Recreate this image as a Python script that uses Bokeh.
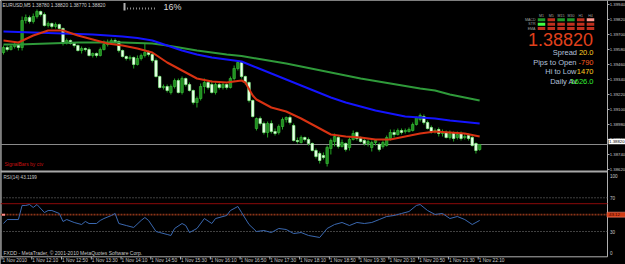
from bokeh.plotting import figure
from bokeh.models import Range1d, ColumnDataSource
from bokeh.core.properties import value
from bokeh.embed import file_html
from bokeh.resources import INLINE

# ---------------- data ----------------
title_text = "EURUSD,M5  1.38780 1.38820 1.38770 1.38820"
opens = [
    1.39556, 1.39596, 1.39580, 1.39604, 1.39620, 1.39596, 1.39812, 1.39836, 1.39804, 1.39844,
    1.39884, 1.39860, 1.39772, 1.39788, 1.39764, 1.39780, 1.39748, 1.39636, 1.39652, 1.39628,
    1.39612, 1.39572, 1.39588, 1.39580, 1.39532, 1.39548, 1.39532, 1.39580, 1.39620, 1.39636,
    1.39652, 1.39644, 1.39572, 1.39524, 1.39508, 1.39516, 1.39460, 1.39508, 1.39532, 1.39556,
    1.39540, 1.39492, 1.39364, 1.39276, 1.39284, 1.39236, 1.39284, 1.39332, 1.39236, 1.39348,
    1.39300, 1.39252, 1.39156, 1.39188, 1.39284, 1.39316, 1.39300, 1.39236, 1.39300, 1.39276,
    1.39300, 1.39276, 1.39348, 1.39428, 1.39476, 1.39364, 1.39316, 1.39172, 1.38948, 1.39028,
    1.38988, 1.38916, 1.38988, 1.38924, 1.38916, 1.38964, 1.39020, 1.39036, 1.38972, 1.38852,
    1.38836, 1.38876, 1.38860, 1.38828, 1.38772, 1.38748, 1.38732, 1.38668, 1.38788, 1.38844,
    1.38876, 1.38804, 1.38828, 1.38796, 1.38860, 1.38916, 1.38868, 1.38852, 1.38828, 1.38796,
    1.38836, 1.38820, 1.38804, 1.38812, 1.38868, 1.38916, 1.38900, 1.38932, 1.38924, 1.38924,
    1.38932, 1.38980, 1.39020, 1.39044, 1.38996, 1.38956, 1.38924, 1.38940, 1.38908, 1.38916,
    1.38876, 1.38916, 1.38876, 1.38908, 1.38876, 1.38892, 1.38876, 1.38828, 1.38780]
highs = [
    1.39612, 1.39612, 1.39620, 1.39636, 1.39628, 1.39844, 1.39860, 1.39852, 1.39868, 1.39900,
    1.39892, 1.39876, 1.39804, 1.39796, 1.39796, 1.39788, 1.39756, 1.39668, 1.39660, 1.39636,
    1.39620, 1.39604, 1.39596, 1.39596, 1.39556, 1.39556, 1.39596, 1.39652, 1.39660, 1.39668,
    1.39668, 1.39652, 1.39580, 1.39532, 1.39532, 1.39524, 1.39532, 1.39548, 1.39628, 1.39572,
    1.39556, 1.39508, 1.39372, 1.39300, 1.39300, 1.39300, 1.39348, 1.39348, 1.39364, 1.39356,
    1.39316, 1.39260, 1.39204, 1.39308, 1.39348, 1.39332, 1.39332, 1.39316, 1.39316, 1.39316,
    1.39308, 1.39364, 1.39452, 1.39492, 1.39484, 1.39372, 1.39324, 1.39180, 1.39036, 1.39044,
    1.39004, 1.39004, 1.39012, 1.38948, 1.38980, 1.39036, 1.39044, 1.39052, 1.38988, 1.38876,
    1.38892, 1.38884, 1.38876, 1.38836, 1.38788, 1.38764, 1.38756, 1.38812, 1.38868, 1.38908,
    1.38892, 1.38860, 1.38836, 1.38876, 1.38932, 1.38924, 1.38884, 1.38876, 1.38860, 1.38852,
    1.38860, 1.38836, 1.38852, 1.38892, 1.38940, 1.38940, 1.38948, 1.38948, 1.38948, 1.38956,
    1.38996, 1.39044, 1.39068, 1.39060, 1.39012, 1.38972, 1.38948, 1.38956, 1.38940, 1.38932,
    1.38932, 1.38924, 1.38924, 1.38924, 1.38908, 1.38908, 1.38892, 1.38836, 1.38820]
lows = [
    1.39540, 1.39564, 1.39572, 1.39588, 1.39572, 1.39572, 1.39788, 1.39788, 1.39788, 1.39828,
    1.39844, 1.39764, 1.39756, 1.39748, 1.39748, 1.39740, 1.39612, 1.39620, 1.39620, 1.39596,
    1.39564, 1.39548, 1.39564, 1.39524, 1.39516, 1.39516, 1.39524, 1.39572, 1.39604, 1.39628,
    1.39628, 1.39556, 1.39516, 1.39492, 1.39492, 1.39428, 1.39452, 1.39492, 1.39516, 1.39524,
    1.39476, 1.39356, 1.39268, 1.39260, 1.39236, 1.39220, 1.39268, 1.39228, 1.39220, 1.39284,
    1.39244, 1.39140, 1.39116, 1.39172, 1.39228, 1.39260, 1.39228, 1.39220, 1.39260, 1.39260,
    1.39260, 1.39268, 1.39332, 1.39412, 1.39348, 1.39300, 1.39156, 1.39036, 1.38932, 1.38972,
    1.38900, 1.38876, 1.38908, 1.38892, 1.38900, 1.38940, 1.38996, 1.38980, 1.38844, 1.38828,
    1.38828, 1.38844, 1.38812, 1.38764, 1.38708, 1.38668, 1.38700, 1.38644, 1.38740, 1.38804,
    1.38788, 1.38796, 1.38764, 1.38772, 1.38852, 1.38852, 1.38836, 1.38812, 1.38804, 1.38764,
    1.38812, 1.38764, 1.38788, 1.38804, 1.38852, 1.38876, 1.38892, 1.38900, 1.38908, 1.38916,
    1.38924, 1.38972, 1.39004, 1.38980, 1.38940, 1.38908, 1.38908, 1.38884, 1.38884, 1.38868,
    1.38860, 1.38844, 1.38860, 1.38852, 1.38860, 1.38852, 1.38804, 1.38748, 1.38770]
closes = [
    1.39596, 1.39580, 1.39604, 1.39620, 1.39596, 1.39812, 1.39836, 1.39804, 1.39844, 1.39884,
    1.39860, 1.39772, 1.39788, 1.39764, 1.39780, 1.39748, 1.39636, 1.39652, 1.39628, 1.39612,
    1.39572, 1.39588, 1.39580, 1.39532, 1.39548, 1.39532, 1.39580, 1.39620, 1.39636, 1.39652,
    1.39644, 1.39572, 1.39524, 1.39508, 1.39516, 1.39460, 1.39508, 1.39532, 1.39556, 1.39540,
    1.39492, 1.39364, 1.39276, 1.39284, 1.39252, 1.39284, 1.39332, 1.39236, 1.39348, 1.39300,
    1.39252, 1.39156, 1.39188, 1.39284, 1.39316, 1.39276, 1.39236, 1.39300, 1.39276, 1.39300,
    1.39276, 1.39348, 1.39428, 1.39476, 1.39364, 1.39316, 1.39172, 1.39044, 1.39028, 1.38988,
    1.38916, 1.38988, 1.38924, 1.38908, 1.38964, 1.39020, 1.39036, 1.38996, 1.38852, 1.38844,
    1.38876, 1.38860, 1.38828, 1.38772, 1.38724, 1.38692, 1.38716, 1.38796, 1.38852, 1.38884,
    1.38804, 1.38836, 1.38780, 1.38860, 1.38908, 1.38868, 1.38844, 1.38828, 1.38844, 1.38836,
    1.38852, 1.38780, 1.38836, 1.38876, 1.38916, 1.38900, 1.38932, 1.38916, 1.38932, 1.38940,
    1.38980, 1.39036, 1.39052, 1.38996, 1.38948, 1.38924, 1.38932, 1.38908, 1.38924, 1.38876,
    1.38908, 1.38868, 1.38900, 1.38868, 1.38884, 1.38868, 1.38812, 1.38772, 1.38820]
bid_price = 1.38820

ma_idx = list(range(0, 129, 4))
ma_green = [1.39620, 1.39620, 1.39624, 1.39628, 1.39632, 1.39636, 1.39636, 1.39636, 1.39636,
            1.39632, 1.39628, 1.39612, 1.39592, 1.39572, 1.39556, 1.39540, 1.39528, 1.39508,
            1.39488, 1.39468, 1.39444, 1.39420, 1.39396, 1.39372, 1.39348, 1.39328, 1.39308,
            1.39288, 1.39268, 1.39252, 1.39220, 1.39196, 1.39172]
ma_blue = [1.39724, 1.39720, 1.39716, 1.39712, 1.39708, 1.39704, 1.39700, 1.39692, 1.39684,
           1.39672, 1.39652, 1.39612, 1.39572, 1.39540, 1.39516, 1.39500, 1.39484, 1.39436,
           1.39388, 1.39340, 1.39292, 1.39244, 1.39196, 1.39156, 1.39124, 1.39092, 1.39068,
           1.39044, 1.39036, 1.39028, 1.39012, 1.39000, 1.38988]
red_idx = [0, 4, 8, 12, 16, 20, 24, 28, 32, 36, 40, 44, 48, 52, 56, 60, 64, 65, 67, 68,
           72, 76, 80, 84, 88, 92, 96, 100, 104, 108, 112, 116, 120, 124, 128]
ma_red = [1.39652, 1.39636, 1.39692, 1.39732, 1.39732, 1.39692, 1.39660, 1.39628, 1.39612,
          1.39588, 1.39556, 1.39476, 1.39412, 1.39348, 1.39324, 1.39316, 1.39332, 1.39316,
          1.39212, 1.39180, 1.39116, 1.39084, 1.39028, 1.38964, 1.38900, 1.38884, 1.38876,
          1.38860, 1.38860, 1.38884, 1.38908, 1.38924, 1.38916, 1.38908, 1.38884]

rsi_title = "RSI(14) 43.1199"
rsi_idx = [0, 1, 4, 5, 6, 7, 8, 9, 11, 12, 13, 15, 16, 17, 19, 21, 22, 23, 25, 26, 27, 29, 30,
           31, 33, 35, 37, 38, 39, 41, 42, 44, 45, 46, 48, 49, 50, 52, 54, 56, 57, 60, 61, 63,
           64, 66, 68, 70, 72, 74, 76, 78, 80, 82, 85, 87, 89, 91, 93, 95, 97, 99, 101, 103,
           105, 107, 109, 111, 112, 114, 116, 118, 120, 122, 124, 126, 128]
rsi_val = [39.5, 44.2, 44.2, 60.9, 60.9, 62.0, 58.5, 62.0, 52.5, 54.9, 54.9, 51.4, 41.9, 44.2,
           40.7, 38.3, 41.9, 39.5, 39.5, 43.1, 45.4, 49.0, 51.4, 39.5, 37.1, 34.8, 43.1, 46.6,
           43.1, 30.0, 28.8, 26.5, 25.3, 33.6, 39.5, 37.1, 28.8, 33.6, 45.4, 39.5, 45.4, 49.0,
           54.9, 59.7, 52.5, 38.3, 30.0, 31.2, 28.8, 33.6, 32.4, 27.6, 28.8, 25.3, 22.9, 33.6,
           38.3, 40.7, 37.1, 40.7, 39.5, 40.7, 44.2, 47.8, 49.0, 51.4, 53.7, 60.9, 62.0, 54.9,
           50.2, 51.4, 45.4, 47.8, 44.2, 38.3, 43.12]
rsi_dotted_levels = [70, 30]
rsi_red_level = 63
rsi_line_level = 50
rsi_box_text = "43.12"
rsi_axis_ticks = [100, 70, 30, 0]
rsi_axis_labels = ["100", "70", "30", "0"]

price_ticks = [1.39940, 1.39820, 1.39700, 1.39580, 1.39460, 1.39340, 1.39220, 1.39100,
               1.38980, 1.38860, 1.38740, 1.38620]
time_idx = list(range(0, 129, 8))
time_labels = ["1 Nov 2010", "1 Nov 12:10", "1 Nov 12:50", "1 Nov 13:30", "1 Nov 14:10",
               "1 Nov 14:50", "1 Nov 15:30", "1 Nov 16:10", "1 Nov 16:50", "1 Nov 17:30",
               "1 Nov 18:10", "1 Nov 18:50", "1 Nov 19:30", "1 Nov 20:10", "1 Nov 20:50",
               "1 Nov 21:30", "1 Nov 22:10"]

tf_labels = ["M1", "M5", "M15", "M30", "H1", "H4"]
sig_rows = ["MACD", "STR", "EMA"]
sig_colors = [["#1f9a2a", "#c0301e", "#1f9a2a", "#1f9a2a", "#c0301e", "#ff9a90"],
              ["#44ff44", "#c0301e", "#c0301e", "#c0301e", "#c0301e", "#c0301e"],
              ["#c0301e", "#c0301e", "#c0301e", "#c0301e", "#c0301e", "#c0301e"]]
big_price = "1.38820"
info_rows = [("Spread", "20.0", "#ffcc22"), ("Pips to Open", "-790", "#ff5a1e"),
             ("Hi to Low", "1470", "#ffcc22"), ("Daily Av", "1626.0", "#33ee33")]
copyright_text = "FXDD - MetaTrader, \u00a9 2001-2010 MetaQuotes Software Corp."
signal_text = "SignalBars by ctv"
progress_text = "16%"

# ---------------- geometry helpers (screen placement only) ----------------
W, H = 625, 264
BAR0, STEP = 3.0, 3.72          # px of bar 0 and px per bar
def bx(px):
    return (px - BAR0) / STEP
P_Y, P_PX = 144.0, 0.00008      # bid price sits at y=144 px, price per px
def py(ypx):
    return bid_price + (P_Y - ypx) * P_PX
R0_Y, R_PX = 256.3, 0.843       # RSI 0 at y=256.3 px, px per RSI unit
def ry(ypx):
    return (R0_Y - ypx) / R_PX

AX = bx(607)                    # right axis position
FONT = value("Liberation Sans")

p = figure(width=W, height=H, x_range=Range1d(bx(0), bx(W)), y_range=Range1d(py(H), py(0)),
           output_backend="svg", toolbar_location=None, x_axis_type=None, y_axis_type=None,
           min_border=0, background_fill_color="#000000", border_fill_color="#000000",
           outline_line_color=None)
p.extra_y_ranges = {"rsi": Range1d(ry(H), ry(0))}

def txt(px, ypx, s, color, size, align="left", baseline="middle", style="normal"):
    p.text(x=[bx(px)], y=[py(ypx)], text=[s], text_color=color, text_font_size=f"{size}px",
           text_align=align, text_baseline=baseline, text_font=FONT, text_font_style=style)

# ---------------- frame lines ----------------
p.segment(x0=[bx(1)], y0=[py(0)], x1=[bx(1)], y1=[py(R0_Y)], line_color="#6a6a6a", line_width=1)
p.segment(x0=[AX], y0=[py(0)], x1=[AX], y1=[py(R0_Y)], line_color="#b0b0b0", line_width=1)
p.segment(x0=[bx(0)], y0=[py(R0_Y)], x1=[AX], y1=[py(R0_Y)], line_color="#b0b0b0", line_width=1)
p.segment(x0=[bx(0)], y0=[py(171)], x1=[AX], y1=[py(171)], line_color="#a8a8a8", line_width=2)

# bid line
p.segment(x0=[bx(0)], y0=[bid_price], x1=[AX], y1=[bid_price], line_color="#8a8a8a", line_width=1)

# ---------------- candles ----------------
idx = list(range(len(opens)))
src = ColumnDataSource(dict(
    x=idx, o=opens, h=highs, l=lows, c=closes,
    top=[max(a, b) for a, b in zip(opens, closes)],
    bot=[min(a, b) for a, b in zip(opens, closes)],
    fill=["#1f8f1f" if c >= o else "#eaffea" for o, c in zip(opens, closes)],
    edge=["#3cc03c" if c >= o else "#8cff8c" for o, c in zip(opens, closes)],
))
p.segment(x0="x", y0="l", x1="x", y1="h", source=src, line_color="#22a822", line_width=1)
p.vbar(x="x", width=0.68, top="top", bottom="bot", source=src, fill_color="fill",
       line_color="edge", line_width=0.6)

# ---------------- moving averages ----------------
p.line(ma_idx, ma_green, line_color="#2f9a3a", line_width=2)
p.line(ma_idx, ma_blue, line_color="#1414ff", line_width=2)
p.line(red_idx, ma_red, line_color="#d83212", line_width=2)

# ---------------- RSI pane ----------------
for lv in rsi_dotted_levels:
    p.segment(x0=[bx(0)], y0=[lv], x1=[AX], y1=[lv], y_range_name="rsi",
              line_color="#808080", line_width=1, line_dash="1 2")
p.segment(x0=[bx(0)], y0=[rsi_red_level], x1=[AX], y1=[rsi_red_level], y_range_name="rsi",
          line_color="#8c0a0a", line_width=1)
p.segment(x0=[bx(0)], y0=[rsi_line_level], x1=[AX], y1=[rsi_line_level], y_range_name="rsi",
          line_color="#8a3418", line_width=1.6, line_dash="2 1")
p.rect(x=[bx(3)], y=[rsi_line_level], width=3, height=2, width_units="screen",
       height_units="screen", y_range_name="rsi", fill_color="#ff8c8c", line_color=None)
p.line(rsi_idx, rsi_val, y_range_name="rsi", line_color="#3a68b0", line_width=1)
p.rect(x=[bx(616)], y=[rsi_line_level], width=19, height=5, width_units="screen",
       height_units="screen", y_range_name="rsi", fill_color="#d23c14", line_color="#ff9a8a",
       line_width=0.5)
p.text(x=[bx(608.5)], y=[rsi_line_level], text=[rsi_box_text], y_range_name="rsi",
       text_color="#3a0000", text_font_size="4.4px", text_align="left",
       text_baseline="middle", text_font=FONT)
rsi_src = ColumnDataSource(dict(x=[bx(609.5)] * len(rsi_axis_ticks), y=rsi_axis_ticks,
                                t=rsi_axis_labels, dy=[3, 0, 0, -3.6]))
p.text(x="x", y="y", text="t", y_offset="dy", source=rsi_src, y_range_name="rsi",
       text_color="#c8c8c8", text_font_size="4.6px", text_align="left", text_baseline="middle",
       text_font=FONT)

# ---------------- price axis ----------------
p.segment(x0=[AX] * len(price_ticks), y0=price_ticks, x1=[bx(609)] * len(price_ticks),
          y1=price_ticks, line_color="#b0b0b0", line_width=1)
p.text(x=[bx(609.2)] * len(price_ticks), y=price_ticks, text=[f"{v:.5f}" for v in price_ticks],
       text_color="#c8c8c8", text_font_size="4.3px", text_align="left", text_baseline="middle",
       text_font=FONT)
p.rect(x=[bx(616.5)], y=[py(141)], width=17, height=5.5, width_units="screen",
       height_units="screen", fill_color="#ffffff", line_color=None)
p.text(x=[bx(608.6)], y=[py(141)], text=[f"{bid_price:.5f}"], text_color="#000000",
       text_font_size="4.3px", text_align="left", text_baseline="middle", text_font=FONT)

# ---------------- time axis ----------------
p.segment(x0=[i - 0.4 for i in time_idx], y0=[0] * len(time_idx),
          x1=[i - 0.4 for i in time_idx], y1=[ry(259)] * len(time_idx), y_range_name="rsi",
          line_color="#b0b0b0", line_width=1)
p.text(x=time_idx, y=[ry(260.2)] * len(time_idx), text=time_labels, x_offset=-1,
       y_range_name="rsi", text_color="#c8c8c8", text_font_size="4.8px", text_align="left",
       text_baseline="middle", text_font=FONT)

# ---------------- texts ----------------
txt(2, 5, title_text, "#d0d0d0", 4.8)
txt(163, 6, progress_text, "#d8d8d8", 9)
p.segment(x0=[bx(124)], y0=[py(2.5)], x1=[bx(124)], y1=[py(10)], line_color="#b0b0b0",
          line_width=2)
dots_x = [bx(127 + 3 * k) for k in range(10)]
p.rect(x=dots_x, y=[py(8)] * len(dots_x), width=1, height=2, width_units="screen",
       height_units="screen", fill_color="#8a8a8a", line_color=None)
txt(4, 163.5, signal_text, "#c81010", 5)
txt(3, 176.5, rsi_title, "#c8c8c8", 4.6)
txt(3, 252, copyright_text, "#c8c8c8", 5)

# ---------------- info panel ----------------
cell_x = [541, 550.8, 560.6, 570.4, 580.2, 590]
row_y = [19.3, 23.7, 28.0]
for ci, lab in enumerate(tf_labels):
    txt(cell_x[ci], 15, lab, "#a0a0a0", 3.6, align="center")
for ri, lab in enumerate(sig_rows):
    txt(535, row_y[ri], lab, "#a0a0a0", 3.6, align="right")
    p.rect(x=[bx(cx) for cx in cell_x], y=[py(row_y[ri])] * len(cell_x), width=7.5, height=3,
           width_units="screen", height_units="screen", fill_color=sig_colors[ri],
           line_color=None)
txt(592.5, 38.5, big_price, "#e0401c", 18, align="right")
info_y = [52, 61.5, 71, 81]
info_split = [576.5, 576.0, 576.0, 577]
for (lab, val, col), yy, sx in zip(info_rows, info_y, info_split):
    txt(sx, yy, lab, "#b4c0dc", 7.5, align="right")
    txt(593, yy, val, col, 7.5, align="right")

open("out.html", "w").write(file_html(p, INLINE))
